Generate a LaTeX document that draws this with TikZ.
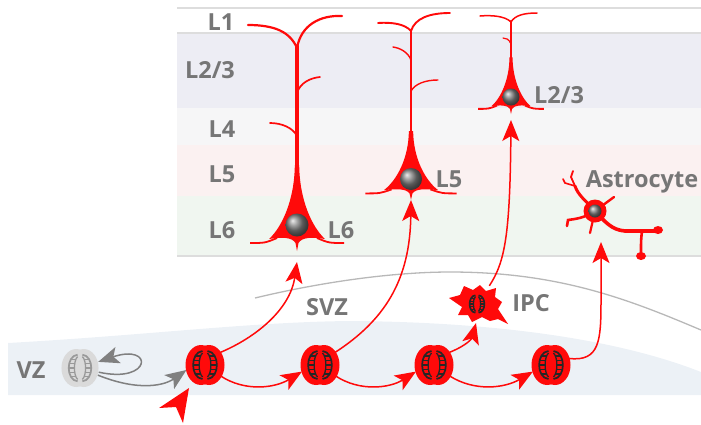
\documentclass[tikz,border=0pt]{standalone}
\usepackage{fontspec}
\setmainfont{Open Sans}
\usetikzlibrary{arrows.meta}

\definecolor{lab}{HTML}{767676}
\definecolor{nred}{HTML}{FF0A0A}
\definecolor{band23}{HTML}{EDEDF4}
\definecolor{band4}{HTML}{F6F6F7}
\definecolor{band5}{HTML}{FBF1F1}
\definecolor{band6}{HTML}{F0F6F0}
\definecolor{vzfill}{HTML}{ECF1F6}
\definecolor{rule}{HTML}{DDDDDD}
\definecolor{cellgrey}{HTML}{DADADA}

% chromosome halves drawn inside a dividing cell
\newcommand{\chromosomes}[1]{%
  \foreach \s in {-1,1}{%
    \begin{scope}[xscale=\s]
      \draw[#1, line width=1.7] (2.5,-14) .. controls (15,-13) and (15,13) .. (2.5,14);
      \draw[#1, line width=1.3] (2.5,-12) .. controls (7,-8) and (7,8) .. (2.5,12);
      \foreach \yy/\xa/\xb in {-9/4.3/10, -4.5/5.4/11.4, 0/5.7/11.8, 4.5/5.4/11.4, 9/4.3/10}
        \draw[#1, line width=1.3] (\xa,\yy) -- (\xb,\yy);
    \end{scope}%
  }%
}

\tikzset{
  lay/.style={font=\fontsize{23.5}{23.5}\selectfont\bfseries, text=lab, inner sep=0, anchor=base},
  cellbox/.style={circle, minimum size=38, inner sep=0},
  redarr/.style={draw=nred, line width=1.5, -{Stealth[length=21pt,width=17pt,inset=5pt]}},
  greyarr/.style={draw=gray, line width=1.5, -{Stealth[length=21pt,width=17pt,inset=5pt]}},
  dend/.style={draw=nred, line cap=round},
  astro/.style={draw=nred, line width=3, line cap=round},
  pics/rgc/.style 2 args={code={
    \fill[#1] (-4,0) ellipse[x radius=15.5, y radius=20];
    \fill[#1] (4,0) ellipse[x radius=15.5, y radius=20];
    \chromosomes{#2}
  }},
  pics/pyr/.style={code={
    \fill[nred] (-2.2,-60) .. controls (-2.5,-25) and (-15,2) .. (-28,14)
        .. controls (-15,12) and (-5,12) .. (-1.5,18) -- (0,26) -- (1.5,18)
        .. controls (5,12) and (15,12) .. (28,14)
        .. controls (15,2) and (2.5,-25) .. (2.2,-60) -- cycle;
    \draw[nred, line width=1.8] (-20,13) .. controls (-32,18) .. (-47,18);
    \draw[nred, line width=1.8] (20,13) .. controls (32,18) .. (47,18);
  }},
}

\begin{document}
\begin{tikzpicture}[x=1pt,y=-1pt]
\useasboundingbox (0,0) rectangle (701,424);

% cortical layers
\fill[white]  (177,8)   rectangle (701,33);
\fill[band23] (177,33)  rectangle (701,108);
\fill[band4]  (177,108) rectangle (701,145);
\fill[band5]  (177,145) rectangle (701,196);
\fill[band6]  (177,196) rectangle (701,256);
\draw[rule, line width=2] (177,8) -- (701,8);
\draw[rule, line width=1.2] (177,33) -- (701,33);
\draw[rule, line width=2] (177,256) -- (701,256);

\node[lay] (tL1)  at (221,30)  {L1};
\node[lay] (tL23) at (210,78)  {L2/3};
\node[lay] (tL4)  at (222,137) {L4};
\node[lay] (tL5)  at (222,182) {L5};
\node[lay] (tL6)  at (222,238) {L6};

% ventricular zone and subventricular boundary
\fill[vzfill] (8,343) .. controls (150,335) and (250,322) .. (350,321)
  .. controls (500,322) and (620,340) .. (701,372) -- (701,395) -- (8,395) -- cycle;
\draw[black!28, line width=1.3] (255,298) .. controls (330,280) and (400,272) .. (450,272)
  .. controls (560,272) and (630,300) .. (701,330);

\node[lay] (tVZ)  at (31,378)  {VZ};
\node[lay] (tSVZ) at (327,315) {SVZ};
\node[lay] (tIPC) at (531,311) {IPC};

% L6 pyramidal neuron
\coordinate (s6) at (297,225);
\draw[dend, line width=3.2] (297,170) -- (297,46);
\draw[dend, line width=2.2] (297,48) .. controls (290,32) and (275,25) .. (248,25);
\draw[dend, line width=2.2] (297,48) .. controls (301,25) and (320,15) .. (342,16);
\draw[dend, line width=1.7] (297,93) .. controls (300,83) and (310,78) .. (320,77);
\draw[dend, line width=1.7] (297,136) .. controls (293,128) and (282,123) .. (270,123);
\pic at (s6) {pyr};
\shade[ball color=black!50] (s6) circle[radius=11.5];
\node[lay] (tN6) at (341,238) {L6};
\coordinate (s6in) at (297,262);

% L5 pyramidal neuron
\coordinate (s5) at (411,179);
\draw[dend, line width=2.8] (411,145) -- (411,30);
\draw[dend, line width=1.9] (411,31) .. controls (405,24) and (392,22) .. (378,23);
\draw[dend, line width=1.9] (411,31) .. controls (415,18) and (430,13) .. (450,13);
\draw[dend, line width=1.4] (411,60) .. controls (408,52) and (400,48) .. (393,47);
\draw[dend, line width=1.4] (411,91) .. controls (415,84) and (425,80) .. (438,80);
\pic[xscale=0.97, yscale=0.8] at (s5) {pyr};
\shade[ball color=black!50] (s5) circle[radius=11];
\node[lay] (tN5) at (449,187) {L5};
\coordinate (s5in) at (411,200);

% L2/3 pyramidal neuron
\coordinate (s23) at (511,97);
\draw[dend, line width=2.2] (511,70) -- (511,21);
\draw[dend, line width=1.5] (511,22) .. controls (505,16) and (492,15) .. (480,16);
\draw[dend, line width=1.5] (511,22) .. controls (515,15) and (525,13) .. (537,13);
\draw[dend, line width=1.2] (511,44) .. controls (509,39) and (506,38) .. (503,38);
\pic[xscale=0.7, yscale=0.66] at (s23) {pyr};
\shade[ball color=black!50] (s23) circle[radius=8.5];
\node[lay] (tN23) at (559,103) {L2/3};
\coordinate (s23in) at (511,120);

% astrocyte
\coordinate (ast) at (595,211);
\draw[astro] (ast) .. controls (585,200) and (578,195) .. (575,186);
\draw[astro, line width=1.8] (575,186) .. controls (573,182) .. (571,177) -- (573,171);
\draw[astro, line width=1.6] (575,186) -- (565,183) -- (563,179);
\draw[astro, line width=2.4] (ast) -- (614,197);
\draw[astro, line width=2.6] (ast) .. controls (585,218) and (575,219) .. (568,220) -- (567,226);
\draw[astro, line width=2.2] (ast) .. controls (592,222) .. (590,233);
\draw[astro, line width=3.6] (ast) .. controls (605,222) and (612,230) .. (625,231) -- (655,231);
\fill[nred] (658,230) ellipse[x radius=5, y radius=4];
\draw[astro, line width=2.6] (642,231) .. controls (641,240) .. (641,254);
\fill[nred] (641,256) ellipse[x radius=5, y radius=4];
\fill[nred] (ast) circle[radius=11.5];
\shade[ball color=black!50] (ast) circle[radius=6.5];
\node[lay] (tAst) at (642,187) {Astrocyte};
\coordinate (astin) at (601,242);

% radial glia and progenitors
\node[cellbox] (c0) at (80,368) {};
\pic[scale=0.95] at (c0) {rgc={cellgrey}{black!40}};
\foreach \n/\x in {c1/205, c2/320, c3/434, c4/551}{
  \node[cellbox] (\n) at (\x,365) {};
  \pic at (\n) {rgc={nred}{black!85}};
}

% intermediate progenitor
\node[inner sep=0, minimum width=50, minimum height=34] (ipc) at (478,303) {};
\fill[nred, shift={(478,303)}] (-29,-5) -- (-18,-8) -- (-14,-17) -- (-5,-13) -- (2,-18) -- (8,-12)
  -- (18,-15) -- (17,-6) -- (24,-1) -- (20,6) -- (24,12) -- (30,21) -- (20,16) -- (12,18)
  -- (4,14) -- (-6,19) -- (-10,12) -- (-20,12) -- (-16,4) -- cycle;
\begin{scope}[shift={(477,304)}, scale=0.62]
  \chromosomes{black!85}
\end{scope}
\coordinate (ipcin) at (476,323);

% self-renewal and lineage arrows
\draw[greyarr] ([shift={(30,8)}]c0) .. controls (152,384) and (154,343) .. ([shift={(30,-13)}]c0);
\draw[greyarr] ([shift={(25,14)}]c0) .. controls (140,392) and (165,385) .. (c1.195);
\fill[nred] (189,388) -- (159,408) -- (176,407) -- (183,423) -- cycle;

\draw[redarr] (c1.40) .. controls (255,338) and (290,310) .. (s6in);
\draw[redarr] (c1.-35) .. controls (245,392) and (275,388) .. (c2.200);
\draw[redarr] (c2.40) .. controls (385,320) and (410,280) .. (s5in);
\draw[redarr] (c2.-35) .. controls (360,392) and (390,388) .. (c3.200);
\draw[redarr] (c3.40) .. controls (468,345) and (472,338) .. (ipcin);
\draw[redarr] (c3.-35) .. controls (475,392) and (505,388) .. (c4.200);
\draw[redarr] (c4.20) .. controls (600,362) and (601,340) .. (601,300) -- (astin);
\draw[redarr] ([shift={(20,-26)}]ipc) .. controls (505,262) and (510,235) .. (s23in);
\end{tikzpicture}
\end{document}
